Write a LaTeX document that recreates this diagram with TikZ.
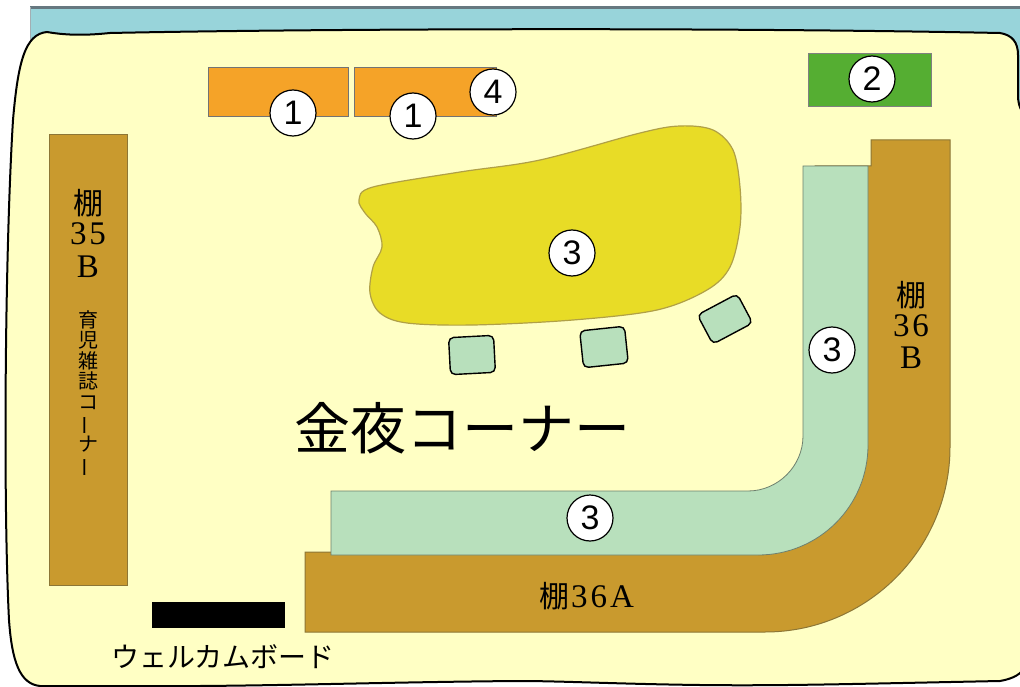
\documentclass[tikz,border=0pt]{standalone}
\usepackage{fontspec}
\setmainfont{Liberation Serif}
\newfontfamily\jp{Noto Sans CJK JP}
\newfontfamily\numfont{Liberation Sans}
\definecolor{bandblue}{HTML}{98D4DA}
\definecolor{bandtop}{HTML}{667880}
\definecolor{floor}{HTML}{FFFFC4}
\definecolor{orangebox}{HTML}{F5A328}
\definecolor{greenbox}{HTML}{55AE32}
\definecolor{shelfbrown}{HTML}{C99A2E}
\definecolor{shelfline}{HTML}{8C7636}
\definecolor{lightgreen}{HTML}{B8E0BC}
\definecolor{lgline}{HTML}{6E806E}
\definecolor{blobyellow}{HTML}{E8DC26}
\definecolor{blobline}{HTML}{B0A046}
\newcommand{\vbar}{\rotatebox[origin=c]{90}{ー}}
\begin{document}
\begin{tikzpicture}[x=1pt,y=-1pt,
  numcirc/.style={circle, draw=black, line width=1.2pt, fill=white, minimum size=46pt, inner sep=0pt, font=\numfont\fontsize{34}{34}\selectfont},
  obox/.style={rectangle, fill=orangebox, draw=black!55, line width=1pt, inner sep=0pt},
  shelfbox/.style={rectangle, fill=shelfbrown, draw=shelfline, line width=1pt, inner sep=0pt},
  shelf/.style={fill=shelfbrown, draw=shelfline, line width=1pt},
  lgshape/.style={fill=lightgreen, draw=lgline, line width=0.8pt},
  seat/.style={rectangle, rounded corners=5pt, draw=black, line width=1.4pt, fill=lightgreen, minimum width=45pt, minimum height=37pt, inner sep=0pt},
  bigjp/.style={font=\jp\fontsize{30}{30}\selectfont, inner sep=0pt},
  bigrm/.style={font=\rmfamily\fontsize{33}{33}\selectfont, inner sep=0pt},
]
\useasboundingbox (0,0) rectangle (1020,687);
\fill[white] (0,0) rectangle (1020,687);
% window band
\fill[bandblue] (30,7) rectangle (1020,120);
\draw[bandtop, line width=3pt] (30,7.5) -- (1020,7.5);
\draw[bandtop!60, line width=1.5pt] (30.5,7) -- (30.5,60);
% floor
\filldraw[fill=floor, draw=black, line width=2pt]
  (13,120) .. controls (18,62) and (25,34) .. (47,32)
  .. controls (70,36) and (90,35) .. (110,33)
  .. controls (300,29) and (700,27) .. (1000,33)
  .. controls (1012,35) and (1018,42) .. (1018,55)
  -- (1018,95) .. controls (1018,110) and (1024,115) .. (1032,120)
  -- (1032,640) .. controls (1030,668) and (1022,677) .. (1000,681)
  .. controls (850,684) and (780,686) .. (700,685)
  .. controls (620,684) and (560,681) .. (520,681)
  .. controls (380,682) and (250,687) .. (133,686)
  -- (40,686) .. controls (20,684) and (12,662) .. (9,620)
  .. controls (3,500) and (5,250) .. (13,120) -- cycle;
% orange boxes
\node[obox, minimum width=140pt, minimum height=49pt] (o1) at (278,92.5) {};
\node[obox, minimum width=142pt, minimum height=49pt] (o2) at (425,92.5) {};
% green box
\node[rectangle, fill=greenbox, draw=black!50, line width=1pt, minimum width=123pt, minimum height=53pt, inner sep=0pt] (g2) at (869.5,80.5) {};
% shelf 35B
\node[shelfbox, minimum width=78pt, minimum height=450pt] (s35) at (88,360) {};
\node[bigjp] (s35a) at (88,203) {棚};
\node[bigrm] (s35b) at (88,234) {3\kern3pt 5};
\node[bigrm] (s35c) at (88,267) {B};
\node[font=\jp\fontsize{20}{20.5}\selectfont, align=center, inner sep=0pt] (s35d) at (88,394)
  {育\\児\\雑\\誌\\コ\\\vbar\\ナ\\\vbar};
% shelf 36 (L)
\draw[shelf] (305,632) -- (305,552) -- (745,552) -- (745,505) -- (815,505) -- (815,166) -- (871,166) -- (871,140)
  -- (950,140) -- (950,447) .. controls (950,549) and (867,632) .. (765,632) -- cycle;
% light green L
\draw[lgshape] (331,555) -- (331,491) -- (748,491) .. controls (778,491) and (803,466) .. (803,436)
  -- (803,166) -- (868,166) -- (868,445) .. controls (868,506) and (819,555) .. (758,555) -- cycle;
\node[bigjp] (s36a) at (911,295) {棚};
\node[bigrm] (s36b) at (911,326) {3\kern3pt 6};
\node[bigrm] (s36c) at (911,358) {B};
\node[anchor=base west, inner sep=0pt] (s36A) at (539,607)
  {{\jp\fontsize{30}{30}\selectfont 棚}{\rmfamily\fontsize{33}{33}\selectfont\kern2pt 3\kern3pt 6\kern3pt A}};
% yellow blob
\draw[fill=blobyellow, draw=blobline, line width=1.2pt] plot[smooth cycle, tension=0.55] coordinates {
  (359,200) (373,187) (460,172) (540,160) (640,133) (680,126) (713,130) (733,150)
  (740,187) (740,227) (730,267) (707,290) (657,310) (573,320) (473,325) (407,323)
  (380,313) (370,293) (373,267) (382,247) (377,227) (365,213)};
% seats
\node[seat, rotate=3] (seat1) at (472,355) {};
\node[seat, rotate=6] (seat2) at (604,347) {};
\node[seat, minimum width=45pt, minimum height=33pt, rotate=28] (seat3) at (725,319) {};
% welcome board
\node[rectangle, fill=black, minimum width=133pt, minimum height=26pt, inner sep=0pt] (wb) at (218.5,615) {};
\node[font=\jp\fontsize{28}{28}\selectfont, inner sep=0pt] (wbt) at (223,657) {ウェルカムボード};
% corner title
\node[font=\jp\fontsize{56}{56}\selectfont, inner sep=0pt] (title) at (462,428) {金夜コーナー};
% numbers
\node[numcirc] (c1a) at (293,113) {1};
\node[numcirc] (c1b) at (413,116) {1};
\node[numcirc] (c4) at (493,92) {4};
\node[numcirc] (c2) at (872,79) {2};
\node[numcirc] (c3a) at (572,253) {3};
\node[numcirc] (c3b) at (832,350) {3};
\node[numcirc] (c3c) at (590,518) {3};
\end{tikzpicture}
\end{document}
